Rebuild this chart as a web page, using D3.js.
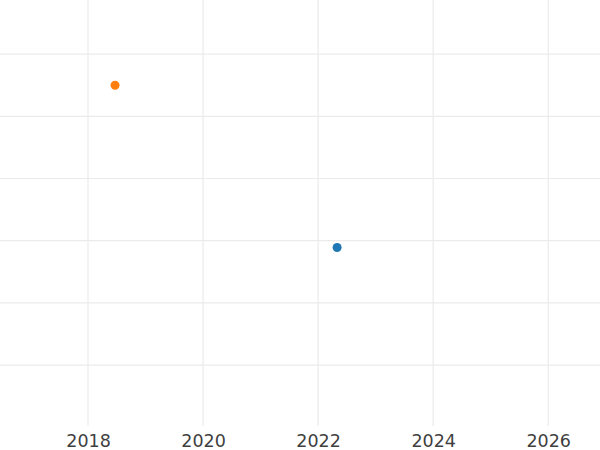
<!DOCTYPE html>
<html>
<head>
<meta charset="utf-8">
<script src="https://cdn.jsdelivr.net/npm/d3@7"></script>
<style>
  html, body { margin: 0; padding: 0; background: #fff; }
  svg { display: block; }
</style>
</head>
<body>
<svg id="chart" width="600" height="450"></svg>
<script>
// Data
const seriesNames = ["A", "B"];
const seriesX = [2022.33, 2018.47];
const seriesY = [2.89, 5.5];
const seriesColors = ["#1f77b4", "#ff7f0e"];
const xTickValues = [2018, 2020, 2022, 2024, 2026];
const yTickValues = [1, 2, 3, 4, 5, 6];

const W = 600, H = 450;
const plot = { left: 0, right: 600, top: 0, bottom: 426 };

const svg = d3.select("#chart");

const x = d3.scaleLinear()
  .domain([2016.47, 2026.9])
  .range([plot.left, plot.right]);
const y = d3.scaleLinear()
  .domain([0.02, 6.87])
  .range([plot.bottom, plot.top]);

const grid = svg.append("g");
grid.selectAll("line.h").data(yTickValues).join("line")
  .attr("class", "h")
  .attr("x1", plot.left).attr("x2", plot.right)
  .attr("y1", d => y(d)).attr("y2", d => y(d))
  .attr("stroke", "#ebebeb").attr("stroke-width", 1.2);
grid.selectAll("line.v").data(xTickValues).join("line")
  .attr("class", "v")
  .attr("y1", plot.top).attr("y2", plot.bottom)
  .attr("x1", d => x(d)).attr("x2", d => x(d))
  .attr("stroke", "#ebebeb").attr("stroke-width", 1.2);

const xAxis = d3.axisBottom(x).tickValues(xTickValues).tickFormat(d3.format("d")).tickSize(0).tickPadding(0);
const gx = svg.append("g").attr("transform", `translate(0,${plot.bottom})`).call(xAxis);
gx.select(".domain").remove();
gx.selectAll("text")
  .attr("y", 21)
  .attr("dy", 0)
  .style("font-family", "DejaVu Sans, sans-serif")
  .style("font-size", "17.5px")
  .attr("fill", "#3f3f3f");

svg.append("g").selectAll("circle")
  .data(seriesNames.map((n, i) => ({ n, x: seriesX[i], y: seriesY[i], c: seriesColors[i] })))
  .join("circle")
  .attr("cx", d => x(d.x))
  .attr("cy", d => y(d.y))
  .attr("r", 4.5)
  .attr("fill", d => d.c);
</script>
</body>
</html>
